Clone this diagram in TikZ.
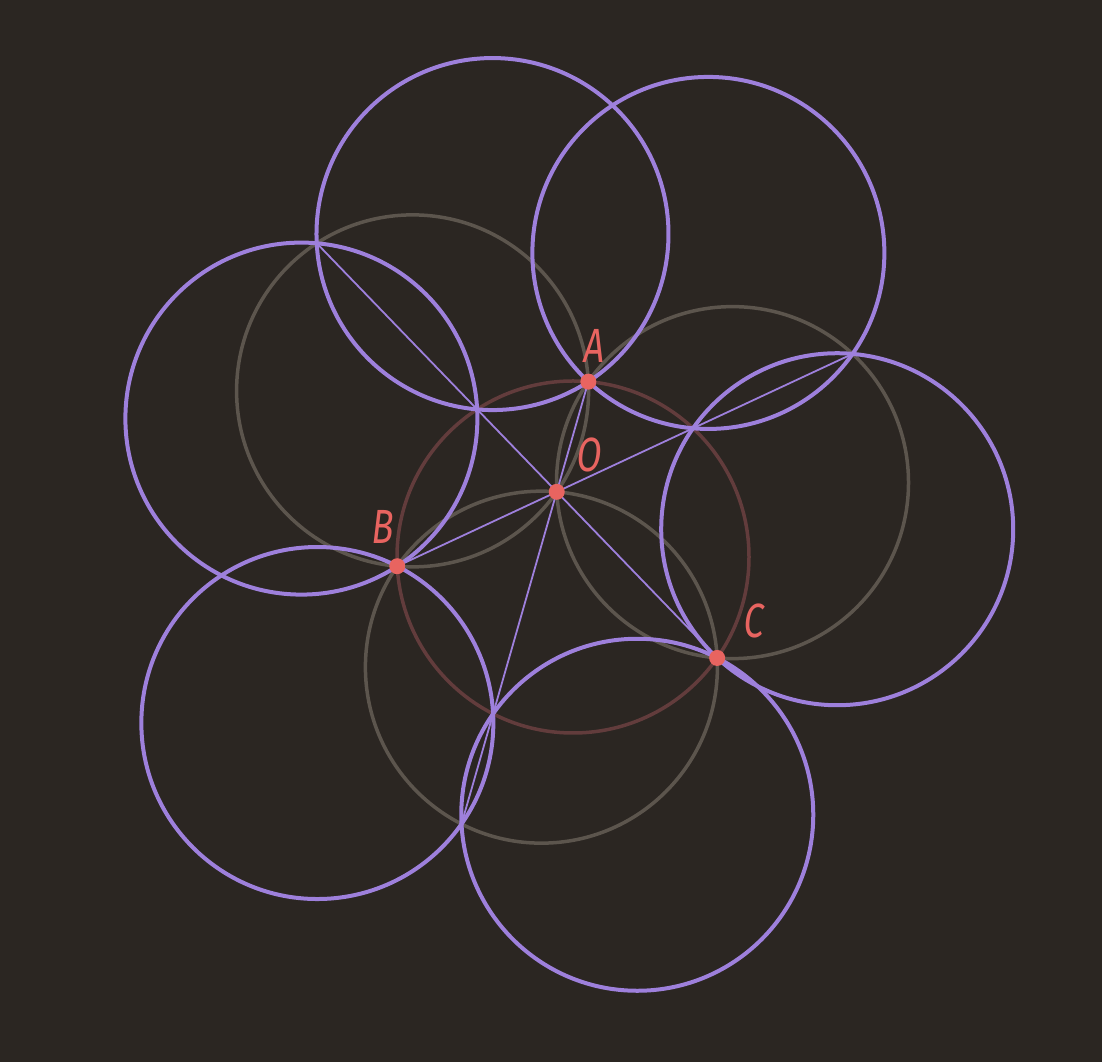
\documentclass[tikz,border=0pt]{standalone}
\usepackage{fontspec}
\newfontfamily\labelfont[FakeStretch=0.75,FakeSlant=0.12]{Fira Sans}
\usepackage{tikz}
\usetikzlibrary{calc}
\definecolor{bg}{RGB}{43,38,34}
\definecolor{lilac}{RGB}{158,128,220}
\definecolor{taupe}{RGB}{92,85,77}
\definecolor{maroon}{RGB}{98,60,60}
\definecolor{coral}{RGB}{232,100,96}
\tikzset{x=1pt,y=1pt,
 mirror/.style={draw=lilac,line width=4pt},
 johnson/.style={draw=taupe,line width=3.5pt},
 circum/.style={draw=maroon,line width=3.5pt},
 altitude/.style={draw=lilac,line width=1.8pt},
 vertex/.style={fill=coral},
 lbl/.style={text=coral,inner sep=0pt,font=\labelfont\fontsize{48}{48}\selectfont},
 }

\begin{document}
\begin{tikzpicture}
        \fill[bg] (0,0) rectangle (1102,1062);
        \useasboundingbox (0,0) rectangle (1102,1062);
        % triangle on the circumcircle
        \coordinate (K) at (573,505);
        \coordinate (A) at ($(K)+(85:176)$);
        \coordinate (B) at ($(K)+(183:176)$);
        \coordinate (C) at ($(K)+(-35:176)$);
        \coordinate (O) at ($(A)+(183:176)+(-35:176)$);
        % johnson circles
        \coordinate (Gab) at ($(A)+(183:176)$);
        \coordinate (Gac) at ($(A)+(-35:176)$);
        \coordinate (Gbc) at ($(B)+(-35:176)$);
        % their mirror images in the sides
        \coordinate (Mab1) at ($(A)+(123:176)$);
        \coordinate (Mab2) at ($(B)+(123:176)$);
        \coordinate (Mac1) at ($(A)+(47:176)$);
        \coordinate (Mac2) at ($(C)+(47:176)$);
        \coordinate (Mbc1) at ($(B)+(243:176)$);
        \coordinate (Mbc2) at ($(C)+(243:176)$);
        % far ends of the altitudes
        \coordinate (Ce) at ($(Gab)+(123:176)$);
        \coordinate (Be) at ($(Gac)+(47:176)$);
        \coordinate (Ae) at ($(Gbc)+(243:176)$);

        \draw[circum] (K) circle (176);
        \draw[johnson] (Gab) circle (176);
        \draw[johnson] (Gac) circle (176);
        \draw[johnson] (Gbc) circle (176);
        \draw[mirror] (Mab1) circle (176);
        \draw[mirror] (Mab2) circle (176);
        \draw[mirror] (Mac1) circle (176);
        \draw[mirror] (Mac2) circle (176);
        \draw[mirror] (Mbc1) circle (176);
        \draw[mirror] (Mbc2) circle (176);
        \draw[altitude] (C) -- (Ce);
        \draw[altitude] (B) -- (Be);
        \draw[altitude] (A) -- (Ae);
        \fill[vertex] (A) circle (8);
        \fill[vertex] (B) circle (8);
        \fill[vertex] (C) circle (8);
        \fill[vertex] (O) circle (8);
        \node[lbl] (la) at (593,716) {A};
        \node[lbl] (lo) at (588,607) {O};
        \node[lbl] (lb) at (381,535) {B};
        \node[lbl] (lc) at (753,441) {C};
\end{tikzpicture}
\end{document}
